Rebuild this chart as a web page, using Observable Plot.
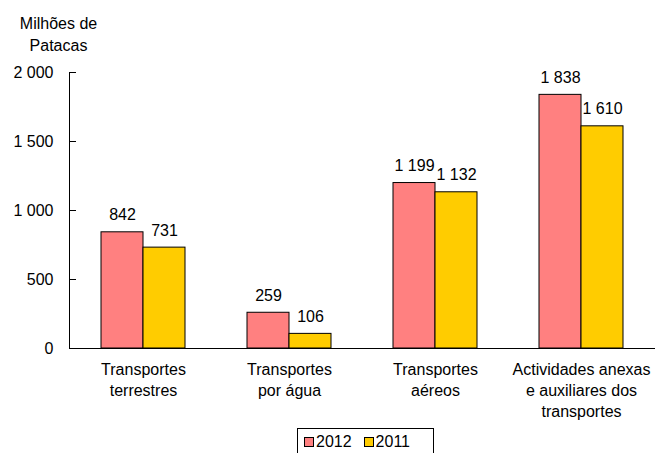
<!DOCTYPE html>
<html><head><meta charset="utf-8">
<script src="https://cdn.jsdelivr.net/npm/d3@7"></script>
<script src="https://cdn.jsdelivr.net/npm/@observablehq/plot@0.6"></script>
<style>
body{margin:0;background:#fff;font-family:"Liberation Sans",Arial,sans-serif;}
#wrap{position:relative;width:656px;height:453px;overflow:hidden;background:#fff}
#legend{position:absolute;left:297px;top:428px;width:137px;height:30px;border:1px solid #000;box-sizing:border-box;display:flex;align-items:flex-start;padding:4px 0 0 6px;font-size:16px;color:#000;line-height:18px}
.item{display:flex;align-items:center;margin-right:12px}
.sw{width:8px;height:8px;border:1px solid #000;margin-right:2px}
</style></head>
<body><div id="wrap"></div>
<script>
const categories = ["Transportes terrestres", "Transportes por água", "Transportes aéreos", "Actividades anexas e auxiliares dos transportes"];
const categoryLabels = ["Transportes\nterrestres", "Transportes\npor água", "Transportes\naéreos", "Actividades anexas\ne auxiliares dos\ntransportes"];
const values2012 = [842, 259, 1199, 1838];
const values2011 = [731, 106, 1132, 1610];
const years = ["2012", "2011"];
const yearColors = ["#FF8080", "#FFCC00"];
const yTicks = [0, 500, 1000, 1500, 2000];
const yTitle = "Milhões de\nPatacas";

const fmt = d3.formatLocale({decimal: ",", thousands: " ", grouping: [3], currency: ["", ""]}).format(",d");
const data2012 = categories.map((c, i) => ({category: c, value: values2012[i]}));
const data2011 = categories.map((c, i) => ({category: c, value: values2011[i]}));
const labelOf = new Map(categories.map((c, i) => [c, categoryLabels[i]]));

const W = 656, H = 453, mL = 69, mR = 1, mT = 72, mB = H - 348;
const step = (W - mL - mR) / categories.length;
const bw = 84;
const pIn = 1 - bw / step;
const half = bw / 2;

const chart = Plot.plot({
  width: W, height: H,
  marginLeft: mL, marginRight: mR, marginTop: mT, marginBottom: mB,
  style: {fontFamily: "'Liberation Sans', Arial, sans-serif", fontSize: "16px", color: "#000", background: "#fff"},
  x: {domain: categories, paddingInner: pIn, paddingOuter: pIn / 2, axis: null},
  y: {domain: [0, 2000], axis: null},
  marks: [
    Plot.barY(data2012, {x: "category", y: "value", fill: yearColors[0], stroke: "#000", strokeWidth: 1, insetRight: half}),
    Plot.barY(data2011, {x: "category", y: "value", fill: yearColors[1], stroke: "#000", strokeWidth: 1, insetLeft: half}),
    Plot.text(data2012, {x: "category", y: "value", text: d => fmt(d.value), dx: -half / 2, dy: -17, fill: "#000"}),
    Plot.text(data2011, {x: "category", y: "value", text: d => fmt(d.value), dx: half / 2, dy: -17, fill: "#000"}),
    Plot.axisY({ticks: yTicks, tickSize: 0, tickPadding: 16, tickFormat: fmt, fill: "#000", label: null}),
    Plot.tickY(yTicks, {y: d => d, insetRight: W - mL - mR - 7, stroke: "#000"}),
    Plot.frame({anchor: "left", stroke: "#000"}),
    Plot.ruleY([0], {stroke: "#000"}),
    Plot.axisX({tickSize: 0, tickPadding: 12, tickFormat: d => labelOf.get(d), lineHeight: 1.3, fill: "#000", label: null}),
    Plot.text([yTitle], {text: d => d, frameAnchor: "top-left", dx: -11, dy: -40, textAnchor: "middle", lineAnchor: "middle", lineHeight: 1.375, fill: "#000"})
  ]
});
const wrap = document.getElementById("wrap");
wrap.appendChild(chart);
const legend = document.createElement("div");
legend.id = "legend";
years.forEach((y, i) => {
  const it = document.createElement("div");
  it.className = "item";
  const sw = document.createElement("span");
  sw.className = "sw";
  sw.style.background = yearColors[i];
  it.appendChild(sw);
  const t = document.createElement("span");
  t.textContent = y;
  it.appendChild(t);
  legend.appendChild(it);
});
wrap.appendChild(legend);
</script>
</body></html>
